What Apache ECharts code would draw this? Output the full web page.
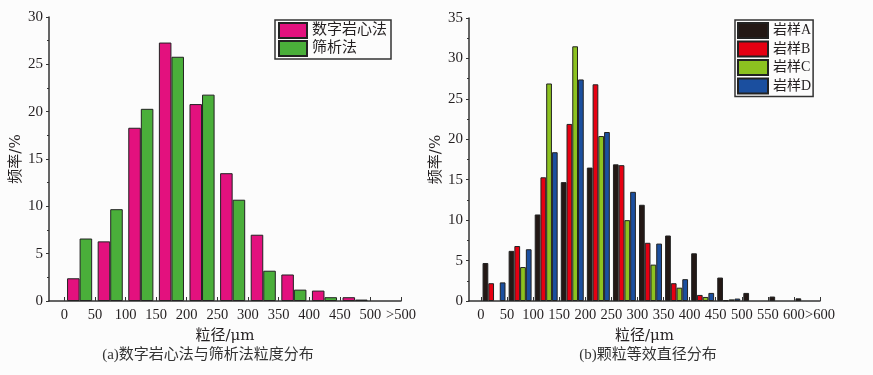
<!DOCTYPE html>
<html><head><meta charset="utf-8">
<script src="https://cdn.jsdelivr.net/npm/echarts@6/dist/echarts.min.js"></script>
<style>html,body{margin:0;padding:0;background:#fcfcfc}#c{width:873px;height:375px}</style>
</head><body><div id="c"></div>
<script>
// ---- chart (a) data ----
const binWidth = 50;
const binsA = [0, 50, 100, 150, 200, 250, 300, 350, 400, 450];
const digitalCore = [2.4, 6.3, 18.3, 27.3, 20.8, 13.5, 7.0, 2.8, 1.1, 0.4];
const sieve = [6.6, 9.7, 20.3, 25.8, 21.8, 10.7, 3.2, 1.2, 0.4, 0.15];
const tickValuesA = [0, 50, 100, 150, 200, 250, 300, 350, 400, 450, 500, 550];
const tickLabelsA = ['0', '50', '100', '150', '200', '250', '300', '350', '400', '450', '500', '>500'];
const namesA = ['数字岩心法', '筛析法'];

// ---- chart (b) data ----
const binsB = [0, 50, 100, 150, 200, 250, 300, 350, 400, 450, 500, 550, 600];
const rockA = [4.7, 6.2, 10.7, 14.7, 16.5, 16.9, 11.9, 8.1, 5.9, 2.9, 1.0, 0.55, 0.33];
const rockB = [2.2, 6.8, 15.3, 21.9, 26.8, 16.8, 7.2, 2.2, 0.75, 0.1];
const rockC = [null, 4.2, 26.9, 31.5, 20.4, 10.0, 4.5, 1.65, 0.5, 0.2];
const rockD = [2.3, 6.4, 18.4, 27.4, 20.9, 13.5, 7.1, 2.7, 1.0, 0.3];
const tickValuesB = [0, 50, 100, 150, 200, 250, 300, 350, 400, 450, 500, 550, 600, 650];
const tickLabelsB = ['0', '50', '100', '150', '200', '250', '300', '350', '400', '450', '500', '550', '600', '>600'];
const namesB = ['岩样A', '岩样B', '岩样C', '岩样D'];

const FONT = "'Liberation Serif', 'Noto Sans CJK SC', serif";
const FONT2 = "'DejaVu Serif', 'Noto Sans CJK SC', serif";
const TXT = '#231f20';
const AX = '#333';

function pts(bins, vals) {
  return vals.map((v, i) => [bins[i] + binWidth / 2, v]);
}

function xAxis(gi, min, max, ticks, labels) {
  return {
    type: 'value', gridIndex: gi, min: min, max: max,
    splitLine: { show: false },
    axisLine: { show: true, onZero: false, lineStyle: { color: AX, width: 1.5 } },
    axisTick: { show: true, inside: true, length: 4, customValues: ticks, lineStyle: { color: AX, width: 1 } },
    axisLabel: {
      customValues: ticks, margin: 7, color: TXT, fontFamily: FONT, fontSize: 14.5,
      showMinLabel: true, showMaxLabel: true, hideOverlap: false,
      formatter: function (v) { const i = ticks.indexOf(Number(v)); return i >= 0 ? labels[i] : ''; }
    },
    name: '粒径/μm', nameLocation: 'middle', nameGap: 28,
    nameTextStyle: { color: TXT, fontFamily: FONT2, fontSize: 15 }
  };
}
function yAxis(gi, max, nameGap) {
  return {
    type: 'value', gridIndex: gi, min: 0, max: max, interval: 5,
    splitLine: { show: false },
    axisLine: { show: true, onZero: false, lineStyle: { color: AX, width: 1.5 } },
    axisTick: { show: true, inside: false, length: 3, lineStyle: { color: AX } },
    minorTick: { show: true, splitNumber: 2, length: 2, lineStyle: { color: AX } },
    axisLabel: { margin: 6, color: TXT, fontFamily: FONT, fontSize: 15 },
    name: '频率/%', nameLocation: 'middle', nameGap: nameGap,
    nameTextStyle: { color: TXT, fontFamily: FONT2, fontSize: 15 }
  };
}
function bar(name, xi, data, color, gap) {
  return {
    type: 'bar', name: name, xAxisIndex: xi, yAxisIndex: xi, data: data,
    barGap: '0%', barCategoryGap: gap,
    itemStyle: { color: color, borderColor: '#222', borderWidth: 1 },
    emphasis: { disabled: true }, animation: false
  };
}

const chart = echarts.init(document.getElementById('c'), null, { renderer: 'canvas' });
chart.setOption({
  backgroundColor: '#fcfcfc',
  animation: false,
  grid: [
    { left: 49, right: 472, top: 17, bottom: 74 },
    { left: 469, right: 53, top: 18, bottom: 74 }
  ],
  xAxis: [xAxis(0, -25, 550, tickValuesA, tickLabelsA), xAxis(1, -23, 650, tickValuesB, tickLabelsB)],
  yAxis: [yAxis(0, 30, 25), yAxis(1, 35, 22)],
  legend: [
    {
      data: namesA, orient: 'vertical', left: 275, top: 20, icon: 'rect',
      itemWidth: 28, itemHeight: 15, itemGap: 1, padding: [2, 4, 2, 3],
      borderColor: '#333', borderWidth: 1.5, selectedMode: false,
      textStyle: { color: TXT, fontFamily: FONT, fontSize: 15, lineHeight: 15 }
    },
    {
      data: namesB, orient: 'vertical', left: 735, top: 20, icon: 'rect',
      itemWidth: 30, itemHeight: 15, itemGap: 1.5, padding: [2, 2, 2, 2],
      borderColor: '#333', borderWidth: 1.5, selectedMode: false,
      textStyle: { color: TXT, fontFamily: FONT, fontSize: 14, lineHeight: 15 }
    }
  ],
  series: [
    bar(namesA[0], 0, pts(binsA, digitalCore), '#e3117e', '18%'),
    bar(namesA[1], 0, pts(binsA, sieve), '#4aaf3a', '18%'),
    bar(namesB[0], 1, pts(binsB, rockA), '#231815', '12%'),
    bar(namesB[1], 1, pts(binsB, rockB), '#e60012', '12%'),
    bar(namesB[2], 1, pts(binsB, rockC), '#8cc220', '12%'),
    bar(namesB[3], 1, pts(binsB, rockD), '#1b4f9f', '12%')
  ],
  graphic: [
    { type: 'text', x: 208, y: 355, style: { text: '(a)数字岩心法与筛析法粒度分布', align: 'center', verticalAlign: 'middle', font: "15px 'Liberation Serif', 'Noto Sans CJK SC'", fill: '#333' } },
    { type: 'text', x: 648, y: 355, style: { text: '(b)颗粒等效直径分布', align: 'center', verticalAlign: 'middle', font: "15px 'Liberation Serif', 'Noto Sans CJK SC'", fill: '#333' } }
  ]
});
</script></body></html>
